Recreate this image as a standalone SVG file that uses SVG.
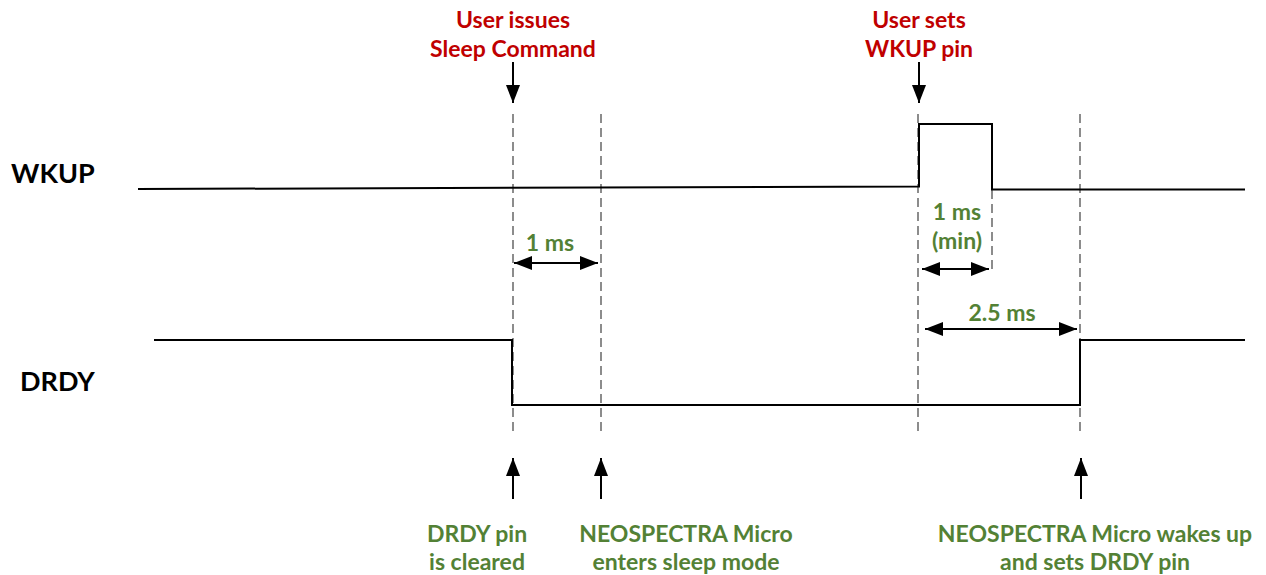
<svg xmlns="http://www.w3.org/2000/svg" width="1266" height="575" viewBox="0 0 1266 575">
  <style>
    text { font-family: Lato, "Open Sans", "Liberation Sans", sans-serif; font-weight: bold; text-anchor: middle; }
    .sig { fill: none; stroke: #000; stroke-width: 2; }
    .guide { fill: none; stroke: #8c8c8c; stroke-width: 2; stroke-dasharray: 9 5; }
    .arrow { fill: none; stroke: #000; stroke-width: 2; }
    .red { fill: #c00000; font-size: 23px; }
    .green { fill: #538135; font-size: 23px; }
    .name { fill: #000; font-size: 27px; text-anchor: start; }
  </style>
  <defs>
    <marker id="head" markerUnits="userSpaceOnUse" markerWidth="20" markerHeight="16" refX="18" refY="7" orient="auto-start-reverse">
      <path d="M0,0 L18,7 L0,14 Z" fill="#000"/>
    </marker>
  </defs>

  <rect width="1266" height="575" fill="#fff"/>

  <!-- signal names -->
  <g id="label-wkup"><text class="name" x="11" y="183">WKUP</text></g>
  <g id="label-drdy"><text class="name" x="20" y="391">DRDY</text></g>

  <!-- vertical timing guides -->
  <g id="guides">
    <line class="guide" x1="513" y1="114" x2="513" y2="434"/>
    <line class="guide" x1="601" y1="114" x2="601" y2="434"/>
    <line class="guide" x1="918" y1="114" x2="918" y2="434"/>
    <line class="guide" x1="992" y1="190" x2="992" y2="272"/>
    <line class="guide" x1="1080" y1="114" x2="1080" y2="434"/>
  </g>

  <!-- WKUP waveform -->
  <g id="wave-wkup">
    <polyline class="sig" points="138,189 919,186.5 919,124 992,124 992,189.5 1245,189.5"/>
  </g>

  <!-- DRDY waveform -->
  <g id="wave-drdy">
    <polyline class="sig" points="154,340 512,340 512,405 1080,405 1080,340 1245,340"/>
  </g>

  <!-- event annotations -->
  <g id="note-sleep-cmd">
    <text class="red" x="513" y="28">User issues</text>
    <text class="red" x="513" y="57">Sleep Command</text>
  </g>
  <g id="note-wkup-set">
    <text class="red" x="919" y="28">User sets</text>
    <text class="red" x="919" y="57">WKUP pin</text>
  </g>
  <g id="note-drdy-cleared">
    <text class="green" x="477" y="542">DRDY pin</text>
    <text class="green" x="477" y="570">is cleared</text>
  </g>
  <g id="note-sleep-mode">
    <text class="green" x="686" y="542">NEOSPECTRA Micro</text>
    <text class="green" x="686" y="570">enters sleep mode</text>
  </g>
  <g id="note-wake">
    <text class="green" x="1095" y="542">NEOSPECTRA Micro wakes up</text>
    <text class="green" x="1095" y="570">and sets DRDY pin</text>
  </g>
  <g id="time-1ms">
    <text class="green" x="550" y="251">1 ms</text>
  </g>
  <g id="time-1ms-min">
    <text class="green" x="957" y="220">1 ms</text>
    <text class="green" x="957" y="249">(min)</text>
  </g>
  <g id="time-2-5ms">
    <text class="green" x="1002" y="321">2.5 ms</text>
  </g>

  <!-- connectors: event pointers and interval spans -->
  <g id="connectors">
    <line class="arrow" x1="513" y1="62" x2="513" y2="103" marker-end="url(#head)"/>
    <line class="arrow" x1="919" y1="62" x2="919" y2="103" marker-end="url(#head)"/>
    <line class="arrow" x1="513" y1="499" x2="513" y2="458" marker-end="url(#head)"/>
    <line class="arrow" x1="601" y1="499" x2="601" y2="458" marker-end="url(#head)"/>
    <line class="arrow" x1="1081" y1="499" x2="1081" y2="458" marker-end="url(#head)"/>
    <line class="arrow" x1="514" y1="263" x2="598" y2="263" marker-start="url(#head)" marker-end="url(#head)"/>
    <line class="arrow" x1="922" y1="269" x2="989" y2="269" marker-start="url(#head)" marker-end="url(#head)"/>
    <line class="arrow" x1="925" y1="329" x2="1077" y2="329" marker-start="url(#head)" marker-end="url(#head)"/>
  </g>
</svg>
